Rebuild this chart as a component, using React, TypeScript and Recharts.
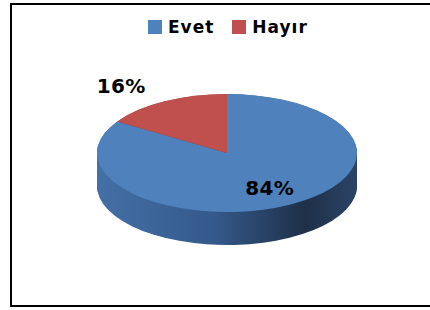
import { PieChart, Pie, Cell } from 'recharts'

const categories = ['Evet', 'Hayır']
const values = [84, 16]
const topColors = ['#4F81BD', '#C0504D']
const sideColors = ['url(#sideBlue)', '#7a2f2d']

const data = categories.map((name, i) => ({ name, value: values[i] }))

// pie geometry on screen (the 3d look is an ellipse plus a stacked side)
const CX = 227
const CY = 153
const RX = 130
const RY = 59
const DEPTH = 33
const K = RY / RX
const NO_MARGIN = { top: 0, right: 0, bottom: 0, left: 0 }

const renderLabel = (props: any) => {
  const { cx, cy, midAngle, outerRadius, percent, value } = props
  const rad = Math.PI / 180
  const outside = percent < 0.25
  const f = outside ? 1.3 : 0.68
  const cos = Math.cos(-midAngle * rad)
  const sin = Math.sin(-midAngle * rad)
  const x = cx + outerRadius * f * cos
  const y = cy + outerRadius * K * f * sin
  const anchor = outside ? (cos < 0 ? 'end' : 'start') : 'middle'
  return (
    <text
      x={x}
      y={y}
      textAnchor={anchor}
      dominantBaseline="central"
      fill="#000"
      fontFamily="DejaVu Sans"
      fontWeight="bold"
      fontSize={20}
      letterSpacing={0.3}
    >
      {value}%
    </text>
  )
}

export default function App() {
  const svgH = 310 / K
  const svgCy = CY / K
  const depthSvg = DEPTH / K
  const offsets: number[] = []
  for (let d = depthSvg; d > 0; d -= 2) offsets.push(d)

  return (
    <div style={{ position: 'absolute', left: 0, top: 0, width: 430, height: 310, overflow: 'hidden', background: '#fff' }}>
      <div
        style={{
          position: 'absolute',
          left: 10,
          top: 3,
          width: 440,
          height: 304,
          border: '2px solid #000',
          boxSizing: 'border-box',
        }}
      />
      <div style={{ position: 'absolute', left: 0, top: 0, transform: `scaleY(${K})`, transformOrigin: '0 0' }}>
        <PieChart width={430} height={svgH} margin={NO_MARGIN}>
          <defs>
            <linearGradient id="sideBlue" x1={CX - RX} x2={CX + RX} y1={0} y2={0} gradientUnits="userSpaceOnUse">
              <stop offset="0" stopColor="#4470a6" />
              <stop offset="0.45" stopColor="#34598b" />
              <stop offset="0.8" stopColor="#1f3048" />
              <stop offset="1" stopColor="#2b4466" />
            </linearGradient>
          </defs>
          {offsets.map((d) => (
            <Pie
              key={`side-${d}`}
              data={data}
              dataKey="value"
              cx={CX}
              cy={svgCy + d}
              outerRadius={RX}
              startAngle={90}
              endAngle={-270}
              stroke="none"
              isAnimationActive={false}
            >
              {data.map((entry, i) => (
                <Cell key={`s-${i}`} fill={sideColors[i]} />
              ))}
            </Pie>
          ))}
          <Pie
            data={data}
            dataKey="value"
            cx={CX}
            cy={svgCy}
            outerRadius={RX}
            startAngle={90}
            endAngle={-270}
            stroke="none"
            isAnimationActive={false}
          >
            {data.map((entry, i) => (
              <Cell key={`t-${i}`} fill={topColors[i]} />
            ))}
          </Pie>
        </PieChart>
      </div>
      <div style={{ position: 'absolute', left: 0, top: 0 }}>
        <PieChart width={430} height={310} margin={NO_MARGIN}>
          <Pie
            data={data}
            dataKey="value"
            cx={CX}
            cy={CY}
            outerRadius={RX}
            startAngle={90}
            endAngle={-270}
            fill="transparent"
            stroke="none"
            labelLine={false}
            label={renderLabel}
            isAnimationActive={false}
          />
        </PieChart>
      </div>
      <div
        style={{
          position: 'absolute',
          left: 148,
          top: 17,
          display: 'flex',
          alignItems: 'center',
          fontFamily: 'DejaVu Sans',
          fontWeight: 'bold',
          fontSize: 17,
          color: '#000',
        }}
      >
        {data.map((entry, i) => (
          <div key={entry.name} style={{ display: 'flex', alignItems: 'center', marginRight: 18 }}>
            <span style={{ width: 14, height: 14, background: topColors[i], marginRight: 6, display: 'inline-block' }} />
            <span style={{ letterSpacing: 1 }}>{entry.name}</span>
          </div>
        ))}
      </div>
    </div>
  )
}
